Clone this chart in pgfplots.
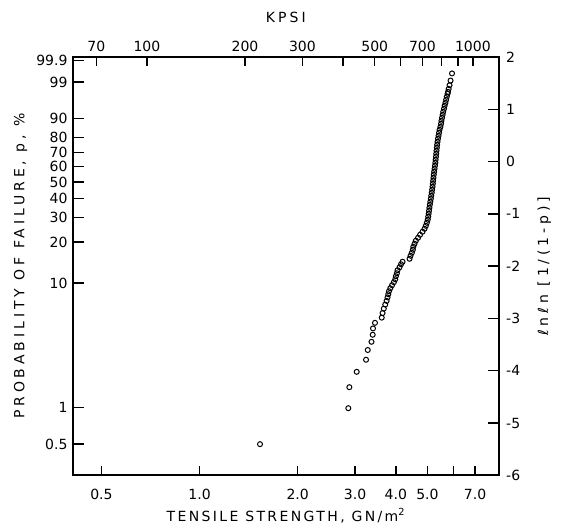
\documentclass[border=0pt]{standalone}
\usepackage{fontspec}
\setmainfont{DejaVu Sans}
\newfontfamily\bottomlab[LetterSpace=17]{DejaVu Sans}
\newfontfamily\sidelab[LetterSpace=28]{DejaVu Sans}
\newfontfamily\toplab[LetterSpace=22]{DejaVu Sans}
\usepackage{pgfplots}
\usepackage{pgfplotstable}
\pgfplotsset{compat=1.18}

% tensile strength (GN/m^2) vs ln ln [1/(1-p)]
\pgfplotstableread{
x v
1.533 -5.405
2.860 -4.717
2.881 -4.315
3.035 -4.021
3.242 -3.790
3.281 -3.604
3.369 -3.447
3.398 -3.312
3.405 -3.191
3.453 -3.084
3.622 -2.985
3.643 -2.897
3.675 -2.813
3.712 -2.736
3.749 -2.665
3.773 -2.598
3.794 -2.537
3.813 -2.480
3.848 -2.423
3.895 -2.365
3.945 -2.308
3.985 -2.251
4.002 -2.193
4.031 -2.136
4.049 -2.078
4.107 -2.021
4.151 -1.964
4.195 -1.916
4.408 -1.859
4.439 -1.801
4.479 -1.744
4.511 -1.686
4.527 -1.629
4.566 -1.572
4.608 -1.514
4.680 -1.457
4.747 -1.400
4.831 -1.342
4.900 -1.285
4.945 -1.228
4.980 -1.170
5.012 -1.113
5.029 -1.055
5.044 -0.998
5.058 -0.941
5.072 -0.883
5.086 -0.826
5.105 -0.769
5.123 -0.711
5.137 -0.654
5.156 -0.597
5.170 -0.539
5.184 -0.482
5.195 -0.424
5.207 -0.367
5.218 -0.310
5.229 -0.252
5.244 -0.195
5.259 -0.138
5.273 -0.080
5.288 -0.023
5.299 0.034
5.311 0.092
5.322 0.149
5.333 0.207
5.344 0.264
5.356 0.321
5.371 0.379
5.387 0.436
5.409 0.493
5.429 0.551
5.448 0.608
5.483 0.665
5.506 0.723
5.521 0.780
5.545 0.837
5.568 0.895
5.591 0.952
5.620 1.010
5.647 1.067
5.680 1.124
5.708 1.182
5.733 1.239
5.765 1.296
5.786 1.333
5.810 1.390
5.847 1.459
5.888 1.549
5.950 1.686
}\strength

\begin{document}
\begin{tikzpicture}
\begin{axis}[name=ax, clip=false,
  scale only axis, width=426.3bp, height=418.3bp,
  xmode=log, xmin=0.4083, xmax=8.291, ymin=-6, ymax=2,
  tick align=inside, major tick length=9bp,
  xtick style={black, line width=1.4bp},
  ytick style={black, line width=1.4bp},
  xticklabel style={font=\fontsize{14bp}{16bp}\selectfont, inner sep=0pt, yshift=-14bp},
  yticklabel style={font=\fontsize{14bp}{16bp}\selectfont, inner sep=0pt, xshift=7bp},
  xtick={0.5,1,2,3,4,5,6,7},
  xticklabels={0.5,1.0,2.0,3.0,4.0,5.0,,7.0},
  xtick pos=left,
  ytick={-6,-5,-4,-3,-2,-1,0,1,2},
  yticklabels={-6,-5,-4,-3,-2,-1,0,1,2},
  ytick pos=right, yticklabel pos=right,
  xlabel={\bottomlab TENSILE STRENGTH, GN/m\textsuperscript{2}},
  xlabel style={font=\fontsize{14bp}{16bp}\selectfont, inner sep=0pt,
    at={(axis description cs:0.5,-0.0790)}, anchor=north},
  ylabel={\sidelab ℓnℓn [1/(1-p)]},
  ylabel style={font=\fontsize{14bp}{16bp}\selectfont, inner sep=0pt,
    at={(axis description cs:1.090,0.5)}, anchor=north},
]
\addplot[only marks, mark=o, mark size=2.5bp, mark options={line width=1bp}, black]
  table[x=x, y=v]{\strength};
% tick marks along the four sides
\pgfplotsinvokeforeach{0.5,1,2,3,4,5,6,7}{
  \draw[line width=1.4bp] (axis cs:#1,-6) -- ([yshift=9bp]axis cs:#1,-6);}
\pgfplotsinvokeforeach{0.4826,0.6895,1.3789,2.0684,2.7579,3.4473,4.1368,4.8262,5.5157,6.2052,6.8946}{
  \draw[line width=1.4bp] (axis cs:#1,2) -- ([yshift=-8bp]axis cs:#1,2);}
\pgfplotsinvokeforeach{-5,-4,-3,-2,-1,0,1}{
  \draw[line width=1.4bp] (axis cs:8.291,#1) -- ([xshift=-11bp]axis cs:8.291,#1);}
\pgfplotsinvokeforeach{-5.405,-4.698,-2.321,-1.537,-1.071,-0.702,-0.390,-0.099,0.172,0.459,0.822,1.520,1.933}{
  \draw[line width=1.4bp] (axis cs:0.4083,#1) -- ([xshift=11bp]axis cs:0.4083,#1);}
\end{axis}
\begin{axis}[
  scale only axis, width=426.3bp, height=418.3bp,
  xmode=log, xmin=0.4083, xmax=8.291, ymin=-6, ymax=2,
  tick align=inside, major tick length=9bp,
  xtick style={black, line width=1.4bp},
  ytick style={black, line width=1.4bp},
  xticklabel style={font=\fontsize{14bp}{16bp}\selectfont, inner sep=0pt, yshift=5bp},
  yticklabel style={font=\fontsize{14bp}{16bp}\selectfont, inner sep=0pt, xshift=-5bp},
  xtick={0.4826,0.6895,1.3789,2.0684,2.7579,3.4473,4.1368,4.8262,5.5157,6.2052,6.8946},
  xticklabels={70,100,200,300,,500,,700,,,1000},
  xtick pos=right, xticklabel pos=right,
  ytick={-5.405,-4.698,-2.321,-1.537,-1.071,-0.702,-0.390,-0.099,0.172,0.459,0.822,1.520,1.933},
  yticklabels={0.5,1,10,20,30,40,50,60,70,80,90,99,99.9},
  ytick pos=left,
  xlabel={\toplab KPSI},
  xlabel style={font=\fontsize{14bp}{16bp}\selectfont, inner sep=0pt,
    at={(axis description cs:0.5,1.0806)}, anchor=south},
  ylabel={\sidelab PROBABILITY OF FAILURE, p, \%},
  ylabel style={font=\fontsize{14bp}{16bp}\selectfont, inner sep=0pt,
    at={(axis description cs:-0.106,0.5)}, anchor=south},
]
\addplot[draw=none] coordinates {(1,0)};
\end{axis}
\draw[line width=1.6bp] (ax.south west) rectangle (ax.north east);
\pgfresetboundingbox
\path ([shift={(-72.7bp,-50bp)}]ax.south west) rectangle ([shift={(62bp,57bp)}]ax.north east);
\end{tikzpicture}
\end{document}
